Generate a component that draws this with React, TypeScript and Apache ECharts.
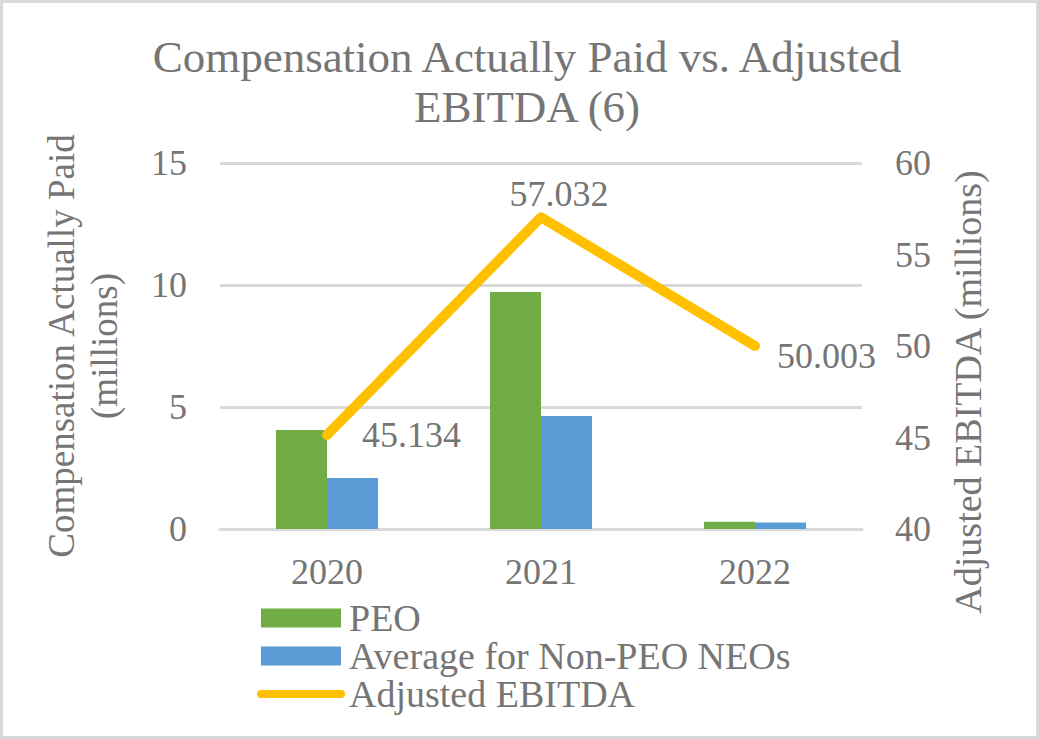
import React, { useEffect, useRef } from "react";
import * as echarts from "echarts";

const categories = ["2020", "2021", "2022"];
const peoValues = [4.06, 9.71, 0.3];
const nonPeoValues = [2.09, 4.63, 0.27];
const ebitdaValues = [45.134, 57.032, 50.003];
const leftTicks = { min: 0, max: 15, interval: 5 };
const rightTicks = { min: 40, max: 60, interval: 5 };
const seriesNames = ["PEO", "Average for Non-PEO NEOs", "Adjusted EBITDA"];

const labelLayouts = [
  { position: "right", distance: 35, offset: [0, 0] },
  { position: "top", distance: 5, offset: [18, 0] },
  { position: "right", distance: 22, offset: [0, 10] },
];

const FONT = "Liberation Serif";
const GRAY = "#757575";

export default function App() {
  const ref = useRef<HTMLDivElement>(null);
  useEffect(() => {
    if (!ref.current) return;
    const chart = echarts.init(ref.current, null, { renderer: "svg" });
    const option: any = {
      animation: false,
      backgroundColor: "#ffffff",
      textStyle: { fontFamily: FONT, color: GRAY },
      title: {
        text: "Compensation Actually Paid vs. Adjusted\nEBITDA (6)",
        left: 522,
        textAlign: "center",
        top: 27,
        textStyle: {
          fontFamily: FONT,
          fontSize: 45,
          lineHeight: 50,
          fontWeight: "normal",
          color: GRAY,
        },
      },
      graphic: [
        {
          type: "rect",
          shape: { x: 1.5, y: 1.5, width: 1036, height: 736 },
          style: { fill: "none", stroke: "#d9d9d9", lineWidth: 3 },
          silent: true,
        },
      ],
      legend: {
        orient: "vertical",
        left: 257,
        top: 599,
        padding: 0,
        itemWidth: 80,
        itemHeight: 19,
        itemGap: 0,
        textStyle: {
          fontFamily: FONT,
          fontSize: 38,
          lineHeight: 37.5,
          color: GRAY,
          padding: [0, 0, 0, 3],
        },
        data: [
          { name: seriesNames[0], icon: "rect" },
          { name: seriesNames[1], icon: "rect" },
          {
            name: seriesNames[2],
            itemStyle: { opacity: 0 },
            lineStyle: { width: 8, cap: "round", color: "#FFC000" },
          },
        ],
      },
      grid: { left: 220, right: 177, top: 163, bottom: 210, containLabel: false },
      xAxis: {
        type: "category",
        data: categories,
        axisLine: { show: true, lineStyle: { color: "#d9d9d9", width: 3 } },
        axisTick: { show: false },
        axisLabel: {
          fontFamily: FONT,
          fontSize: 36,
          color: GRAY,
          margin: 25,
        },
      },
      yAxis: [
        {
          type: "value",
          min: leftTicks.min,
          max: leftTicks.max,
          interval: leftTicks.interval,
          name: "Compensation Actually Paid\n(millions)",
          nameLocation: "middle",
          nameGap: 94,
          nameTextStyle: {
            fontFamily: FONT,
            fontSize: 37,
            lineHeight: 43,
            color: GRAY,
          },
          axisLine: { show: false },
          axisTick: { show: false },
          axisLabel: { fontFamily: FONT, fontSize: 36, color: GRAY, margin: 33 },
          splitLine: { show: true, lineStyle: { color: "#d9d9d9", width: 3 } },
        },
        {
          type: "value",
          min: rightTicks.min,
          max: rightTicks.max,
          interval: rightTicks.interval,
          position: "right",
          name: "Adjusted EBITDA (millions)",
          nameLocation: "middle",
          nameGap: 86,
          nameTextStyle: {
            fontFamily: FONT,
            fontSize: 38,
            lineHeight: 40,
            color: GRAY,
            padding: [0, 92, 0, 0],
          },
          axisLine: { show: false },
          axisTick: { show: false },
          axisLabel: { fontFamily: FONT, fontSize: 36, color: GRAY, margin: 33 },
          splitLine: { show: false },
        },
      ],
      series: [
        {
          name: seriesNames[0],
          type: "bar",
          yAxisIndex: 0,
          data: peoValues,
          barWidth: 51,
          barGap: "0%",
          itemStyle: { color: "#70AD47" },
        },
        {
          name: seriesNames[1],
          type: "bar",
          yAxisIndex: 0,
          data: nonPeoValues,
          barWidth: 51,
          barGap: "0%",
          itemStyle: { color: "#5B9BD5" },
        },
        {
          name: seriesNames[2],
          type: "line",
          yAxisIndex: 1,
          symbol: "circle",
          symbolSize: 0.01,
          itemStyle: { color: "#FFC000" },
          lineStyle: { color: "#FFC000", width: 10, cap: "round", join: "round" },
          z: 5,
          data: ebitdaValues.map((v, i) => ({
            value: v,
            label: {
              show: true,
              position: labelLayouts[i].position,
              distance: labelLayouts[i].distance,
              offset: labelLayouts[i].offset,
              fontFamily: FONT,
              fontSize: 36,
              color: GRAY,
              formatter: (p: any) => Number(p.value).toFixed(3),
            },
          })),
        },
      ],
    };
    chart.setOption(option);
    return () => chart.dispose();
  }, []);
  return (
    <div
      ref={ref}
      style={{ position: "absolute", left: 0, top: 0, width: 1039, height: 739 }}
    />
  );
}
